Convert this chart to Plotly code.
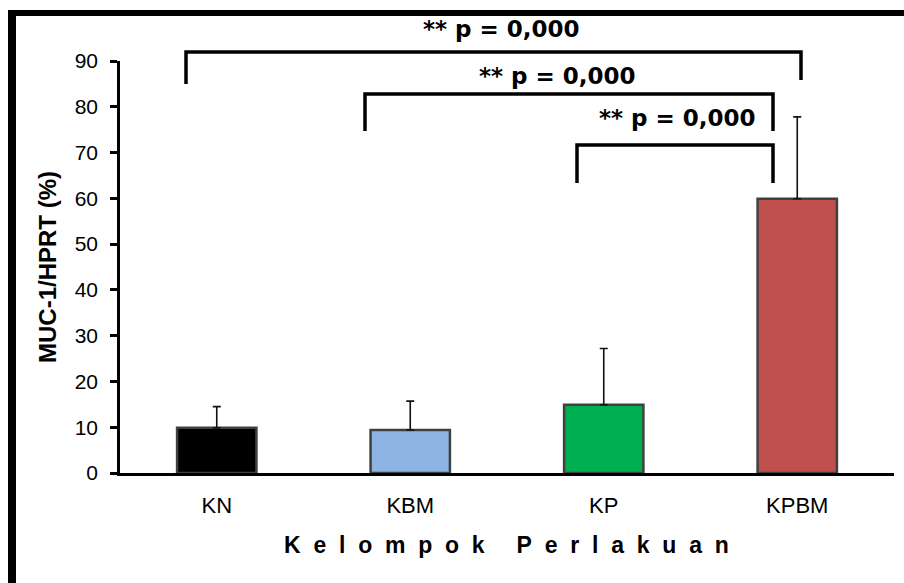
import plotly.graph_objects as go

# Mean MUC-1/HPRT expression per treatment group, with upper SD
groups = ["KN", "KBM", "KP", "KPBM"]
means = [9.9, 9.4, 14.9, 59.9]
sd_upper = [4.6, 6.3, 12.3, 17.9]
bar_colors = ["#000000", "#8EB4E3", "#00B050", "#C0504D"]

y_ticks = [0, 10, 20, 30, 40, 50, 60, 70, 80, 90]
sig_label = "** p = 0,000"

W, H = 904, 583
ML, MR, MT, MB = 120, 10, 61, 110
PW, PH = W - ML - MR, H - MT - MB


def px(x):
    return (x - ML) / PW


def py(y):
    return (H - MB - y) / PH


fig = go.Figure()
fig.add_trace(go.Bar(
    x=groups, y=means, width=0.41,
    marker=dict(color=bar_colors, line=dict(color="#404040", width=2.5)),
    error_y=dict(type="data", symmetric=False, array=sd_upper,
                 arrayminus=[0] * len(groups),
                 color="#111111", thickness=1.6, width=4),
    showlegend=False,
))

line_style = dict(color="black", width=3.5)
shapes = []
# significance brackets (left x, right x, top y, left foot y, right foot y) in px
brackets = [
    (186, 801, 52, 84, 80),
    (365, 773, 94, 131, 131),
    (577, 773, 145, 183, 183),
]
for x0, x1, yt, yl, yr in brackets:
    shapes.append(dict(type="path", xref="paper", yref="paper",
                       path=f"M {px(x0)},{py(yl)} L {px(x0)},{py(yt)} L {px(x1)},{py(yt)} L {px(x1)},{py(yr)}",
                       line=line_style))
# outer frame (left and top edges)
shapes.append(dict(type="line", xref="paper", yref="paper",
                   x0=px(12), x1=px(12), y0=py(10), y1=py(H + 5),
                   line=dict(color="black", width=8)))
shapes.append(dict(type="line", xref="paper", yref="paper",
                   x0=px(8), x1=px(W + 5), y0=py(13), y1=py(13),
                   line=dict(color="black", width=6)))

sig_font = dict(family="DejaVu Sans", size=23, color="black", weight="bold")
annotations = [
    dict(text=sig_label, x=px(501), y=py(29), xref="paper", yref="paper",
         showarrow=False, font=sig_font, xanchor="center", yanchor="middle"),
    dict(text=sig_label, x=px(557), y=py(76), xref="paper", yref="paper",
         showarrow=False, font=sig_font, xanchor="center", yanchor="middle"),
    dict(text=sig_label, x=px(677), y=py(118), xref="paper", yref="paper",
         showarrow=False, font=sig_font, xanchor="center", yanchor="middle"),
    dict(text="MUC-1/HPRT (%)", x=px(47), y=0.5, xref="paper", yref="paper",
         textangle=-90, showarrow=False,
         font=dict(family="Liberation Sans", size=24, color="black", weight="bold"),
         xanchor="center", yanchor="middle"),
    dict(text="\u00a0\u00a0".join("Kelompok") + "\u00a0" * 5 + "\u00a0\u00a0".join("Perlakuan"),
         x=px(506), y=py(545), xref="paper", yref="paper", showarrow=False,
         font=dict(family="Liberation Sans", size=23, color="black", weight="bold"),
         xanchor="center", yanchor="middle"),
]

fig.update_layout(
    width=W, height=H,
    margin=dict(l=ML, r=MR, t=MT, b=MB),
    paper_bgcolor="white", plot_bgcolor="white",
    shapes=shapes, annotations=annotations,
    bargap=0.59,
    xaxis=dict(showline=True, linecolor="black", linewidth=3, ticks="",
               showgrid=False, zeroline=False, range=[-0.5, 3.5],
               tickfont=dict(family="Liberation Sans", size=22, color="black"),
               ticklabelstandoff=11),
    yaxis=dict(showline=True, linecolor="black", linewidth=2.5, ticks="outside",
               ticklen=7, tickwidth=2.5, tickcolor="black",
               tickvals=y_ticks, range=[0, 90], showgrid=False, zeroline=False,
               tickfont=dict(family="Liberation Sans", size=21, color="black"),
               ticklabelstandoff=8),
)

fig.write_html("out.html")
